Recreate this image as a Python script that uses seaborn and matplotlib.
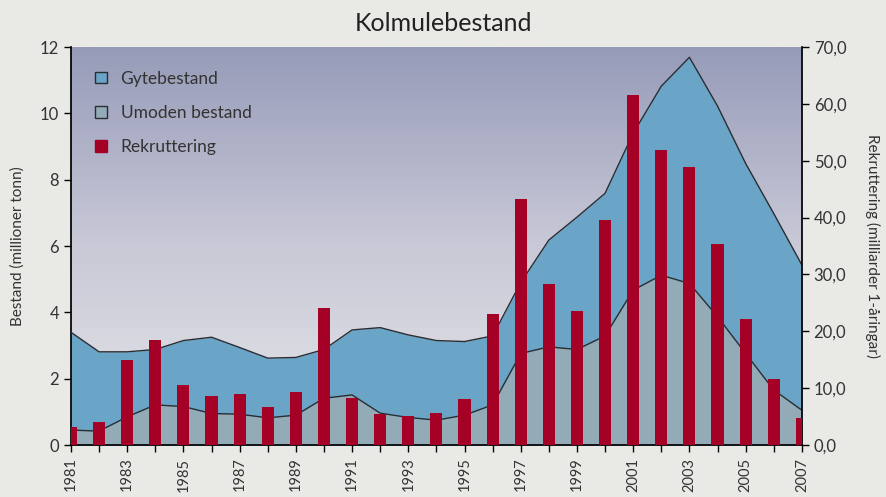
import matplotlib
matplotlib.use("Agg")
import matplotlib.pyplot as plt
import numpy as np
import pandas as pd
import seaborn as sns
from matplotlib.colors import LinearSegmentedColormap
from matplotlib.patches import Patch
from matplotlib.ticker import FuncFormatter

years = list(range(1981, 2008))
# total stock (upper line) and immature stock, million tonnes
total_stock = [3.40, 2.81, 2.81, 2.88, 3.15, 3.25, 2.94, 2.62, 2.64, 2.88, 3.47, 3.54, 3.32, 3.15,
               3.12, 3.29, 4.90, 6.18, 6.87, 7.59, 9.40, 10.82, 11.69, 10.22, 8.49, 6.98, 5.43]
umoden = [0.45, 0.42, 0.85, 1.21, 1.16, 0.95, 0.93, 0.82, 0.90, 1.41, 1.51, 0.96, 0.83, 0.75,
          0.90, 1.21, 2.76, 2.96, 2.88, 3.29, 4.67, 5.12, 4.87, 3.87, 2.76, 1.66, 1.05]
# recruitment, billions of 1-year-olds
rekruttering = [3.1, 4.05, 14.95, 18.5, 10.55, 8.6, 8.95, 6.7, 9.3, 24.1, 8.35, 5.45, 5.1, 5.6,
                8.1, 23.0, 43.2, 28.3, 23.6, 39.6, 61.6, 51.9, 48.9, 35.4, 22.2, 11.6, 4.75]

df = pd.DataFrame({"year": years, "total": total_stock, "umoden": umoden, "rekr": rekruttering})

BG = "#e9e9e5"
BLUE = "#6aa4c6"
GREY = "#93abb7"
RED = "#a50026"
LINE = "#2a2e33"

sns.set_theme(style="ticks")
plt.rcParams["font.family"] = ["Lato", "DejaVu Sans"]
plt.rcParams["axes.edgecolor"] = "black"

fig = plt.figure(figsize=(8.87, 4.97), dpi=100, facecolor=BG)
ax = fig.add_axes([0.080, 0.1046, 0.824, 0.8008])
ax.set_facecolor("none")

# vertical gradient background
grad = LinearSegmentedColormap.from_list("bg", ["#e6e6ea", "#c9c9d7", "#969bb8"])
ax.imshow(np.linspace(0, 1, 256).reshape(-1, 1), cmap=grad, origin="lower", aspect="auto",
          extent=[0, 1, 0, 1], transform=ax.transAxes, zorder=0)

ax.fill_between(df["year"], 0, df["total"], color=BLUE, zorder=1, linewidth=0)
ax.fill_between(df["year"], 0, df["umoden"], color=GREY, zorder=2, linewidth=0)
sns.lineplot(data=df, x="year", y="total", ax=ax, color=LINE, linewidth=1.0, zorder=3)
sns.lineplot(data=df, x="year", y="umoden", ax=ax, color=LINE, linewidth=1.0, zorder=3)

ax.set_xlim(1981, 2007)
ax.set_ylim(0, 12)
ax.set_yticks(range(0, 13, 2))
ax.set_xticks(years)
ax.set_xticklabels([str(y) if (y - 1981) % 2 == 0 else "" for y in years], rotation=90)
ax.set_xlabel("")
ax.set_ylabel("Bestand (millioner tonn)", fontsize=11, color="#333333", labelpad=11)
ax.tick_params(axis="both", direction="out", length=5, width=1, labelsize=12, colors="black",
               labelcolor="#333333")
ax.tick_params(axis="x", pad=4, labelsize=10.5)
for s in ("top", "right"):
    ax.spines[s].set_visible(False)

ax2 = ax.twinx()
sns.barplot(data=df, x="year", y="rekr", ax=ax2, native_scale=True, width=0.43,
            color=RED, saturation=1, errorbar=None, linewidth=0, zorder=4)
ax2.set_xlim(1981, 2007)
ax2.set_ylim(0, 70)
ax2.set_yticks(range(0, 71, 10))
ax2.yaxis.set_major_formatter(FuncFormatter(lambda v, p: f"{v:.1f}".replace(".", ",")))
ax2.set_ylabel("Rekruttering (milliarder 1-åringar)", fontsize=11, color="#333333",
               rotation=270, labelpad=24)
ax2.set_xlabel("")
ax2.tick_params(axis="y", direction="out", length=5, width=1, labelsize=12, colors="black",
                labelcolor="#333333")
for s in ("top", "left", "bottom"):
    ax2.spines[s].set_visible(False)
ax2.spines["right"].set_visible(True)

handles = [Patch(facecolor=BLUE, edgecolor=LINE, linewidth=1),
           Patch(facecolor=GREY, edgecolor=LINE, linewidth=1),
           Patch(facecolor=RED, edgecolor=RED, linewidth=1)]
ax2.legend(handles, ["Gytebestand", "Umoden bestand", "Rekruttering"], loc="upper left",
           bbox_to_anchor=(0.012, 0.98), frameon=False, fontsize=12.5, handlelength=0.65,
           handleheight=0.65, handletextpad=0.8, labelspacing=1.05, labelcolor="#333333")

fig.suptitle("Kolmulebestand", fontsize=18, color="#222222", y=0.975)

fig.savefig("out.png", dpi=100, facecolor=BG)
